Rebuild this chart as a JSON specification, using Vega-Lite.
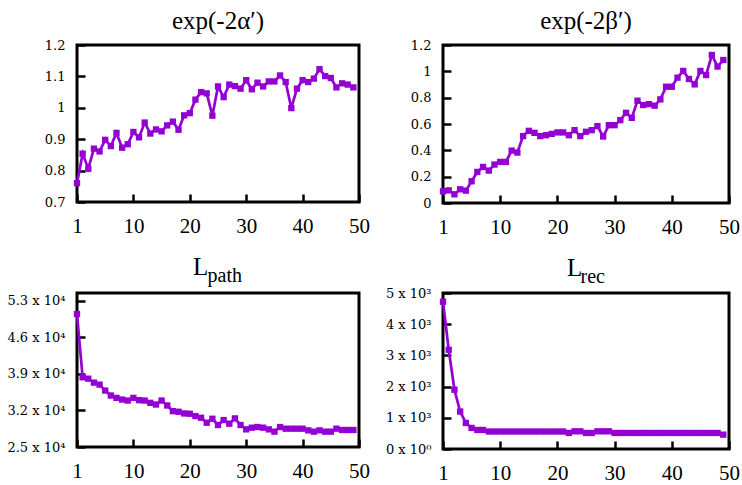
{
  "$schema": "https://vega.github.io/schema/vega-lite/v6.json",
  "background": "white",
  "padding": {"left": 5, "top": 7, "right": 5, "bottom": 5},
  "config": {
    "view": {"stroke": "black", "strokeWidth": 3},
    "axis": {"domain": false, "grid": false, "tickColor": "black", "tickWidth": 2.5, "tickSize": -8, "labelColor": "black"},
    "axisX": {"labelFont": "Liberation Serif", "labelFontSize": 21, "labelPadding": 21, "labelOverlap": false, "labelFlush": false, "labelBound": false},
    "axisY": {"labelFont": "DejaVu Serif", "labelFontSize": 13, "labelPadding": 20, "labelOverlap": false, "labelFlush": false, "labelBound": false},
    "title": {"font": "Liberation Serif", "fontSize": 25, "fontWeight": "normal", "color": "black", "baseline": "alphabetic", "offset": 5},
    "line": {"color": "#9400D3", "strokeWidth": 2.7, "point": {"shape": "square", "filled": true, "size": 40, "color": "#9400D3"}}
  },
  "datasets": {
    "alpha": [
      {"e":0,"v":0.76},{"e":1,"v":0.854},{"e":2,"v":0.806},{"e":3,"v":0.870},{"e":4,"v":0.861},{"e":5,"v":0.898},{"e":6,"v":0.878},{"e":7,"v":0.920},{"e":8,"v":0.873},{"e":9,"v":0.884},
      {"e":10,"v":0.923},{"e":11,"v":0.906},{"e":12,"v":0.953},{"e":13,"v":0.918},{"e":14,"v":0.931},{"e":15,"v":0.925},{"e":16,"v":0.944},{"e":17,"v":0.956},{"e":18,"v":0.930},{"e":19,"v":0.976},
      {"e":20,"v":0.983},{"e":21,"v":1.026},{"e":22,"v":1.050},{"e":23,"v":1.046},{"e":24,"v":0.975},{"e":25,"v":1.068},{"e":26,"v":1.034},{"e":27,"v":1.074},{"e":28,"v":1.069},{"e":29,"v":1.061},
      {"e":30,"v":1.088},{"e":31,"v":1.059},{"e":32,"v":1.080},{"e":33,"v":1.068},{"e":34,"v":1.084},{"e":35,"v":1.084},{"e":36,"v":1.103},{"e":37,"v":1.082},{"e":38,"v":0.999},{"e":39,"v":1.061},
      {"e":40,"v":1.088},{"e":41,"v":1.082},{"e":42,"v":1.093},{"e":43,"v":1.123},{"e":44,"v":1.101},{"e":45,"v":1.095},{"e":46,"v":1.065},{"e":47,"v":1.078},{"e":48,"v":1.074},{"e":49,"v":1.065}
    ],
    "beta": [
      {"e":0,"v":0.089},{"e":1,"v":0.096},{"e":2,"v":0.066},{"e":3,"v":0.104},{"e":4,"v":0.094},{"e":5,"v":0.165},{"e":6,"v":0.236},{"e":7,"v":0.274},{"e":8,"v":0.246},{"e":9,"v":0.292},
      {"e":10,"v":0.312},{"e":11,"v":0.312},{"e":12,"v":0.398},{"e":13,"v":0.383},{"e":14,"v":0.508},{"e":15,"v":0.548},{"e":16,"v":0.533},{"e":17,"v":0.508},{"e":18,"v":0.515},{"e":19,"v":0.525},
      {"e":20,"v":0.536},{"e":21,"v":0.536},{"e":22,"v":0.515},{"e":23,"v":0.553},{"e":24,"v":0.508},{"e":25,"v":0.541},{"e":26,"v":0.553},{"e":27,"v":0.584},{"e":28,"v":0.505},{"e":29,"v":0.591},
      {"e":30,"v":0.591},{"e":31,"v":0.629},{"e":32,"v":0.685},{"e":33,"v":0.647},{"e":34,"v":0.777},{"e":35,"v":0.744},{"e":36,"v":0.751},{"e":37,"v":0.739},{"e":38,"v":0.787},{"e":39,"v":0.883},
      {"e":40,"v":0.883},{"e":41,"v":0.952},{"e":42,"v":1.003},{"e":43,"v":0.942},{"e":44,"v":0.901},{"e":45,"v":1.003},{"e":46,"v":0.972},{"e":47,"v":1.124},{"e":48,"v":1.036},{"e":49,"v":1.086}
    ],
    "path": [
      {"e":0,"v":50470},{"e":1,"v":38350},{"e":2,"v":38090},{"e":3,"v":37330},{"e":4,"v":36950},{"e":5,"v":35810},{"e":6,"v":34860},{"e":7,"v":34410},{"e":8,"v":34090},{"e":9,"v":33900},
      {"e":10,"v":34410},{"e":11,"v":33970},{"e":12,"v":33900},{"e":13,"v":33460},{"e":14,"v":33140},{"e":15,"v":33900},{"e":16,"v":32950},{"e":17,"v":31870},{"e":18,"v":31750},{"e":19,"v":31430},
      {"e":20,"v":31370},{"e":21,"v":30920},{"e":22,"v":30600},{"e":23,"v":29650},{"e":24,"v":30410},{"e":25,"v":29210},{"e":26,"v":30160},{"e":27,"v":29460},{"e":28,"v":30480},{"e":29,"v":29210},
      {"e":30,"v":28380},{"e":31,"v":28700},{"e":32,"v":28830},{"e":33,"v":28700},{"e":34,"v":28380},{"e":35,"v":27940},{"e":36,"v":28830},{"e":37,"v":28510},{"e":38,"v":28510},{"e":39,"v":28510},
      {"e":40,"v":28510},{"e":41,"v":28190},{"e":42,"v":27940},{"e":43,"v":28190},{"e":44,"v":27940},{"e":45,"v":27940},{"e":46,"v":28510},{"e":47,"v":28260},{"e":48,"v":28260},{"e":49,"v":28260}
    ],
    "rec": [
      {"e":0,"v":4720},{"e":1,"v":3180},{"e":2,"v":1900},{"e":3,"v":1200},{"e":4,"v":835},{"e":5,"v":675},{"e":6,"v":610},{"e":7,"v":610},{"e":8,"v":560},{"e":9,"v":560},
      {"e":10,"v":560},{"e":11,"v":560},{"e":12,"v":560},{"e":13,"v":560},{"e":14,"v":560},{"e":15,"v":560},{"e":16,"v":560},{"e":17,"v":560},{"e":18,"v":560},{"e":19,"v":560},
      {"e":20,"v":560},{"e":21,"v":560},{"e":22,"v":514},{"e":23,"v":567},{"e":24,"v":567},{"e":25,"v":514},{"e":26,"v":514},{"e":27,"v":567},{"e":28,"v":567},{"e":29,"v":567},
      {"e":30,"v":514},{"e":31,"v":514},{"e":32,"v":514},{"e":33,"v":514},{"e":34,"v":514},{"e":35,"v":514},{"e":36,"v":514},{"e":37,"v":514},{"e":38,"v":514},{"e":39,"v":514},
      {"e":40,"v":514},{"e":41,"v":514},{"e":42,"v":514},{"e":43,"v":514},{"e":44,"v":514},{"e":45,"v":514},{"e":46,"v":514},{"e":47,"v":514},{"e":48,"v":514},{"e":49,"v":460}
    ]
  },
  "columns": 2,
  "spacing": {"row": 90, "column": 84},
  "bounds": "flush",
  "concat": [
    {
      "width": 282, "height": 157,
      "title": {"text": "exp(-2α′)"},
      "data": {"name": "alpha"},
      "mark": {"type": "line"},
      "encoding": {
        "x": {"field": "e", "type": "quantitative", "title": null, "scale": {"domain": [0, 50], "nice": false}, "axis": {"values": [0,10,20,30,40,50], "labelExpr": "datum.value == 0 ? '1' : datum.label"}},
        "y": {"field": "v", "type": "quantitative", "title": null, "scale": {"domain": [0.7, 1.2], "nice": false, "zero": false}, "axis": {"values": [0.7,0.8,0.9,1,1.1,1.2], "labelExpr": "format(datum.value, '~g')"}}
      }
    },
    {
      "width": 286, "height": 158,
      "title": {"text": "exp(-2β′)"},
      "data": {"name": "beta"},
      "mark": {"type": "line"},
      "encoding": {
        "x": {"field": "e", "type": "quantitative", "title": null, "scale": {"domain": [0, 50], "nice": false}, "axis": {"values": [0,10,20,30,40,50], "labelExpr": "datum.value == 0 ? '1' : datum.label"}},
        "y": {"field": "v", "type": "quantitative", "title": null, "scale": {"domain": [0, 1.2], "nice": false}, "axis": {"values": [0,0.2,0.4,0.6,0.8,1,1.2], "labelExpr": "format(datum.value, '~g')"}}
      }
    },
    {
      "width": 282, "height": 154,
      "title": {"text": "L", "anchor": "start", "frame": "group", "dx": 116, "offset": -15},
      "data": {"name": "path"},
      "encoding": {
        "x": {"field": "e", "type": "quantitative", "title": null, "scale": {"domain": [0, 50], "nice": false}, "axis": {"values": [0,10,20,30,40,50], "labelExpr": "datum.value == 0 ? '1' : datum.label"}},
        "y": {"field": "v", "type": "quantitative", "title": null, "scale": {"domain": [25000, 54500], "nice": false, "zero": false}, "axis": {"values": [25000,32000,39000,46000,53000], "labelExpr": "format(datum.value / 10000, '.1f') + ' x 10⁴'"}}
      },
      "layer": [
        {"mark": {"type": "line"}},
        {"mark": {"type": "line", "opacity": 0, "point": false},
         "encoding": {"x": {"field": "e", "type": "quantitative", "title": "path", "axis": {"orient": "top", "labels": false, "ticks": false, "domain": false, "titleFont": "Liberation Serif", "titleFontSize": 20, "titleFontWeight": "normal", "titleColor": "black", "titleX": 130, "titleY": -12, "titleAlign": "left", "titleAnchor": null, "titleBaseline": "alphabetic", "titleAngle": 0}}}}
      ],
      "resolve": {"axis": {"x": "independent"}}
    },
    {
      "width": 286, "height": 156,
      "title": {"text": "L", "anchor": "start", "frame": "group", "dx": 124, "offset": -15},
      "data": {"name": "rec"},
      "encoding": {
        "x": {"field": "e", "type": "quantitative", "title": null, "scale": {"domain": [0, 50], "nice": false}, "axis": {"values": [0,10,20,30,40,50], "labelExpr": "datum.value == 0 ? '1' : datum.label"}},
        "y": {"field": "v", "type": "quantitative", "title": null, "scale": {"domain": [0, 5000], "nice": false}, "axis": {"values": [0,1000,2000,3000,4000,5000], "labelExpr": "datum.value == 0 ? '0 x 10⁰' : format(datum.value / 1000, 'd') + ' x 10³'"}}
      },
      "layer": [
        {"mark": {"type": "line"}},
        {"mark": {"type": "line", "opacity": 0, "point": false},
         "encoding": {"x": {"field": "e", "type": "quantitative", "title": "rec", "axis": {"orient": "top", "labels": false, "ticks": false, "domain": false, "titleFont": "Liberation Serif", "titleFontSize": 20, "titleFontWeight": "normal", "titleColor": "black", "titleX": 137, "titleY": -11, "titleAlign": "left", "titleAnchor": null, "titleBaseline": "alphabetic", "titleAngle": 0}}}}
      ],
      "resolve": {"axis": {"x": "independent"}}
    }
  ]
}
